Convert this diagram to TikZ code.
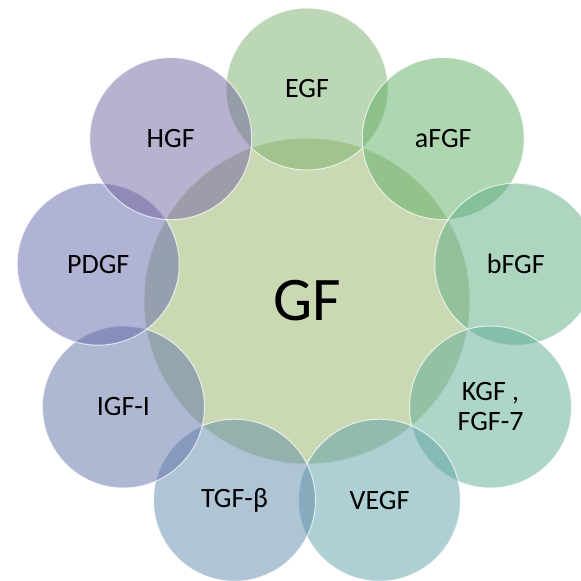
\documentclass[tikz,border=0pt]{standalone}
\usepackage{fontspec}
\setmainfont{Carlito}
\usetikzlibrary{positioning}

\definecolor{hubcol}{RGB}{149,179,105}
\definecolor{egfcol}{RGB}{121,175,107}
\definecolor{afgfcol}{RGB}{93,173,99}
\definecolor{bfgfcol}{RGB}{91,171,129}
\definecolor{kgfcol}{RGB}{93,171,147}
\definecolor{vegfcol}{RGB}{93,159,167}
\definecolor{tgfcol}{RGB}{95,137,169}
\definecolor{igfcol}{RGB}{95,113,167}
\definecolor{pdgfcol}{RGB}{97,103,169}
\definecolor{hgfcol}{RGB}{113,99,159}

\begin{document}
\begin{tikzpicture}[
			x=1pt, y=1pt,
			Hub/.style={circle, minimum size=326pt, inner sep=0pt,
				draw=white, draw opacity=0.7, line width=1pt,
				fill=hubcol, fill opacity=0.5, text opacity=1,
				font=\fontsize{62}{70}\selectfont},
			Spoke/.style={circle, minimum size=162pt, inner sep=0pt,
				draw=white, draw opacity=0.7, line width=1pt,
				fill opacity=0.5, text opacity=1, align=center,
				font=\fontsize{28}{30}\selectfont},
			]
			\useasboundingbox (-307,-280) rectangle (274,301);
			\clip (-307,-280) rectangle (274,301);
			
			\node [Hub] (gf) at (0,0) {GF};
			
			\node [Spoke, fill=egfcol] (egf) at (90:212) {EGF};
			\node [Spoke, fill=afgfcol] (afgf) at (50:212) {aFGF};
			\node [Spoke, fill=bfgfcol] (bfgf) at (10:212) {bFGF};
			\node [Spoke, fill=kgfcol] (kgf) at (-30:212) {KGF ,\\FGF-7};
			\node [Spoke, fill=vegfcol] (vegf) at (-70:212) {VEGF};
			\node [Spoke, fill=tgfcol] (tgf) at (-110:212) {TGF-β};
			\node [Spoke, fill=igfcol] (igf) at (-150:212) {IGF-I};
			\node [Spoke, fill=pdgfcol] (pdgf) at (170:212) {PDGF};
			\node [Spoke, fill=hgfcol] (hgf) at (130:212) {HGF};
		\end{tikzpicture}
\end{document}
